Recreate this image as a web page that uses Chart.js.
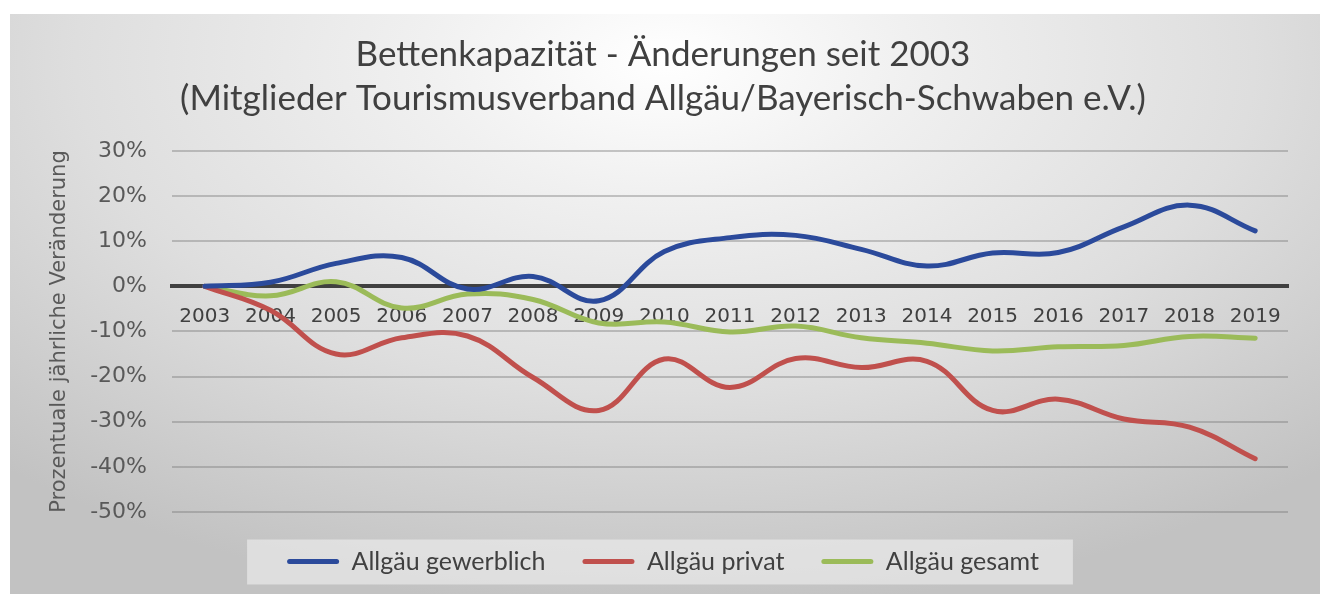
<!DOCTYPE html>
<html>
<head>
<meta charset="utf-8">
<script src="https://cdn.jsdelivr.net/npm/chart.js@4.4.1/dist/chart.umd.min.js"></script>
<style>
    html, body { margin: 0; padding: 0; background: #fff; }
    #frame {
        position: absolute; left: 10px; top: 14px; width: 1310px; height: 580px;
        background: radial-gradient(ellipse 75% 95% at 50% 8%, #ffffff 0%, #f0f0f0 25%, #dedede 60%, #c2c2c2 100%);
    }
    #wrap { position: absolute; left: 0; top: 0; width: 1320px; height: 594px; }
</style>
</head>
<body>
<div id="frame"></div>
<div id="wrap"><canvas id="chart" width="1320" height="594"></canvas></div>
<script>
// Daten (Prozent)
const years = ['2003', '2004', '2005', '2006', '2007', '2008', '2009', '2010', '2011',
               '2012', '2013', '2014', '2015', '2016', '2017', '2018', '2019'];
const gewerblich = [0, 0.9, 5.1, 6.4, -0.6, 2.2, -3.2, 7.7, 10.8, 11.3, 8.2, 4.5, 7.4, 7.5, 13.2, 18.0, 12.3];
const privat = [0, -5.3, -15.0, -11.4, -11.0, -20.2, -27.5, -16.1, -22.4, -16.0, -18.0, -16.6, -27.5, -25.0, -29.4, -31.2, -38.2];
const gesamt = [0, -2.1, 1.0, -4.8, -1.7, -2.9, -8.1, -7.9, -10.1, -8.8, -11.4, -12.6, -14.3, -13.4, -13.1, -11.1, -11.5];

const seriesNames = ['Allgäu gewerblich', 'Allgäu privat', 'Allgäu gesamt'];
const seriesColors = ['#2b4a9b', '#c0504d', '#9bbb59'];

const titleLines = ['Bettenkapazität - Änderungen seit 2003',
                    '(Mitglieder Tourismusverband Allgäu/Bayerisch-Schwaben e.V.)'];
const yTitle = 'Prozentuale jährliche Veränderung';
const yMin = -50, yMax = 30, yStep = 10;

const roundFont = 'Lato, "Noto Sans", sans-serif';
const axisFont = '"DejaVu Sans", Verdana, sans-serif';

// grauer Kasten hinter der Legende
const legendBack = {
    id: 'legendBack',
    beforeDraw(chart) {
        const boxes = chart.legend && chart.legend.legendHitBoxes;
        if (!boxes || !boxes.length) return;
        const first = boxes[0], last = boxes[boxes.length - 1];
        const mid = first.top + first.height / 2;
        const left = first.left - 40;
        const right = last.left + last.width + 34;
        const ctx = chart.ctx;
        ctx.save();
        ctx.fillStyle = 'rgba(240,240,240,0.6)';
        ctx.fillRect(left, mid - 22, right - left, 45);
        ctx.restore();
    }
};

const datasets = [gewerblich, privat, gesamt].map((values, i) => ({
    label: seriesNames[i],
    data: values,
    borderColor: seriesColors[i],
    backgroundColor: seriesColors[i],
    borderWidth: 5,
    borderCapStyle: 'round',
    pointRadius: 0,
    pointHoverRadius: 0,
    fill: false,
    tension: 0.4
}));

new Chart(document.getElementById('chart'), {
    type: 'line',
    data: { labels: years, datasets: datasets },
    plugins: [legendBack],
    options: {
        responsive: false,
        devicePixelRatio: 1,
        animation: false,
        layout: { padding: { left: 38, right: 32, top: 0, bottom: 10 } },
        plugins: {
            title: {
                display: true,
                text: titleLines,
                color: '#404040',
                font: { family: roundFont, size: 35, weight: 'normal', lineHeight: 1.257 },
                padding: { top: 33, bottom: 30 }
            },
            legend: {
                position: 'bottom',
                labels: {
                    color: '#404040',
                    font: { family: roundFont, size: 25 },
                    boxWidth: 52,
                    boxHeight: 5,
                    padding: 37,
                    useBorderRadius: true,
                    borderRadius: 2.5,
                    generateLabels: chart => chart.data.datasets.map((ds, i) => ({
                        text: ds.label,
                        fillStyle: ds.borderColor,
                        strokeStyle: ds.borderColor,
                        lineWidth: 0,
                        hidden: false,
                        datasetIndex: i,
                        fontColor: '#404040',
                        borderRadius: 2.5
                    }))
                }
            },
            tooltip: { enabled: false }
        },
        scales: {
            x: {
                position: { y: 0 },
                offset: true,
                grid: { display: false, drawTicks: false },
                border: { display: true, color: '#404040', width: 4 },
                ticks: {
                    color: '#404040',
                    font: { family: axisFont, size: 20 },
                    padding: 18,
                    maxRotation: 0,
                    autoSkip: false
                }
            },
            y: {
                min: yMin,
                max: yMax,
                afterFit: scale => { scale.width = 134; },
                grid: {
                    color: ctx => ctx.tick && ctx.tick.value === 0 ? 'rgba(0,0,0,0)' : 'rgba(120,120,120,0.4)',
                    lineWidth: 2,
                    drawTicks: false
                },
                border: { display: false },
                ticks: {
                    stepSize: yStep,
                    color: '#595959',
                    font: { family: axisFont, size: 22 },
                    padding: 25,
                    callback: v => v + '%'
                },
                title: {
                    display: true,
                    text: yTitle,
                    color: '#595959',
                    font: { family: axisFont, size: 21 },
                    padding: { top: 9, bottom: 0 }
                }
            }
        }
    }
});
</script>
</body>
</html>
